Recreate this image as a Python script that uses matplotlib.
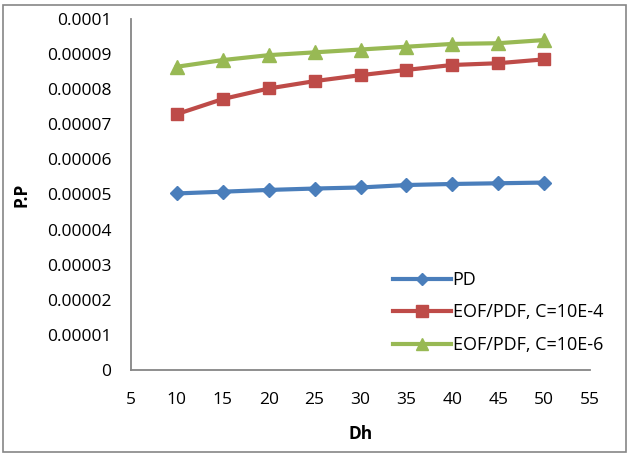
import matplotlib.pyplot as plt
from matplotlib.patches import Rectangle

plt.rcParams['font.family'] = ['Open Sans', 'DejaVu Sans']

dh = [10, 15, 20, 25, 30, 35, 40, 45, 50]
pd_vals = [5.03e-5, 5.08e-5, 5.13e-5, 5.17e-5, 5.20e-5, 5.27e-5, 5.30e-5, 5.32e-5, 5.34e-5]
eof_c4 = [7.29e-5, 7.72e-5, 8.02e-5, 8.23e-5, 8.40e-5, 8.55e-5, 8.69e-5, 8.74e-5, 8.85e-5]
eof_c6 = [8.64e-5, 8.83e-5, 8.97e-5, 9.05e-5, 9.13e-5, 9.21e-5, 9.29e-5, 9.31e-5, 9.40e-5]

x_ticks = [5, 10, 15, 20, 25, 30, 35, 40, 45, 50, 55]
y_ticks = [0, 0.00001, 0.00002, 0.00003, 0.00004, 0.00005,
           0.00006, 0.00007, 0.00008, 0.00009, 0.0001]
y_labels = ['0', '0.00001', '0.00002', '0.00003', '0.00004', '0.00005',
            '0.00006', '0.00007', '0.00008', '0.00009', '0.0001']

fig = plt.figure(figsize=(6.31, 4.54), dpi=100)
ax = fig.add_axes([131 / 631, 1 - 370 / 454, 459 / 631, 351 / 454])

ax.plot(dh, pd_vals, color='#4A7EBB', lw=3, marker='D', ms=7, label='PD')
ax.plot(dh, eof_c4, color='#BE4B48', lw=3, marker='s', ms=9, label='EOF/PDF, C=10E-4')
ax.plot(dh, eof_c6, color='#98B954', lw=3, marker='^', ms=10, label='EOF/PDF, C=10E-6')

ax.set_xlim(5, 55)
ax.set_ylim(0, 0.0001)
ax.set_xticks(x_ticks)
ax.set_yticks(y_ticks)
ax.set_yticklabels(y_labels)
ax.tick_params(labelsize=12.5, length=0, labelcolor='black')
ax.tick_params(axis='y', pad=14)
ax.tick_params(axis='x', pad=16)

for s in ['top', 'right']:
    ax.spines[s].set_visible(False)
for s in ['left', 'bottom']:
    ax.spines[s].set_color('#868686')
    ax.spines[s].set_linewidth(1.3)

ax.set_xlabel('Dh', fontsize=12.5, fontweight='bold', labelpad=12)
ax.set_ylabel('P.P', fontsize=12.5, fontweight='bold', labelpad=0)
ax.yaxis.set_label_coords(-101 / 459, 0.5)

ax.legend(loc='upper left', bbox_to_anchor=(393 / 631, 1 - 271 / 454),
          bbox_transform=fig.transFigure, frameon=False, fontsize=13,
          handlelength=3.2, handletextpad=0.1, labelspacing=0.8, markerscale=0.9,
          borderpad=0, borderaxespad=0)

fig.patches.append(Rectangle((3 / 631, 2 / 454), 623 / 631, 447 / 454,
                             transform=fig.transFigure, fill=False,
                             edgecolor='#868686', lw=1.2))

fig.savefig('out.png', dpi=100)
